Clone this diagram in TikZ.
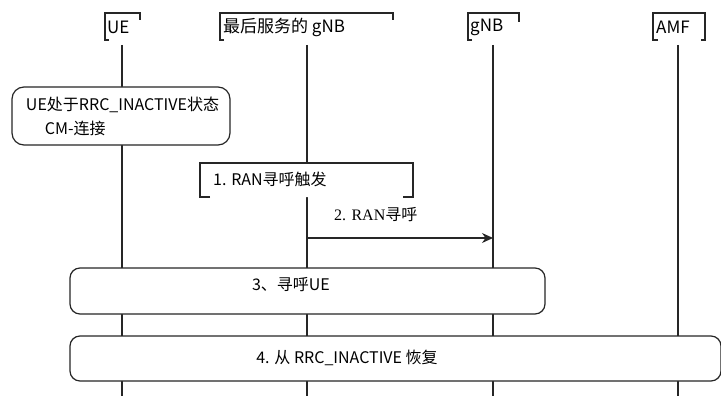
\documentclass[tikz,border=0pt]{standalone}
\usepackage{fontspec}
\setmainfont{Noto Sans CJK SC}
\newfontfamily\lserif{Liberation Serif}
\usetikzlibrary{arrows.meta}
\tikzset{
  ln/.style={draw=black!85, line width=1.2pt},
  lbl/.style={inner sep=0pt, font=\fontsize{16}{19}\selectfont},
  hlbl/.style={inner sep=0pt, font=\fontsize{17}{20}\selectfont},
  rbox/.style={ln, fill=white, rounded corners=10pt, inner sep=0pt},
}
\begin{document}
\begin{tikzpicture}[x=1pt,y=-1pt]
\useasboundingbox (0,0) rectangle (721,396);
% lifeline coordinates
\coordinate (ueT) at (122,45);  \coordinate (ueB) at (122,396);
\coordinate (lgT) at (307,45);  \coordinate (lgB) at (307,396);
\coordinate (gT) at (493,45);   \coordinate (gB) at (493,396);
\coordinate (amT) at (678,45);  \coordinate (amB) at (678,396);
\draw[ln] (ueT) -- (ueB);
\draw[ln] (lgT) -- (lgB);
\draw[ln] (gT) -- (gB);
\draw[ln] (amT) -- (amB);
% headers
\node[hlbl, anchor=west] (hue) at (107,27) {UE};
\draw[ln] (109,40) -- (105,40) -- (105,13) -- (140,13) -- (140,20);
\node[hlbl, anchor=west] (hlg) at (223,27) {最后服务的 gNB};
\draw[ln] (224,40) -- (220,40) -- (220,13) -- (393,13) -- (393,20);
\node[hlbl, anchor=west] (hg) at (470,27) {gNB};
\draw[ln] (472,40) -- (468,40) -- (468,13) -- (519,13) -- (519,22);
\node[hlbl, anchor=west] (ham) at (656,27) {AMF};
\draw[ln] (658,40) -- (653,40) -- (653,13) -- (705,13) -- (705,40) -- (701,40);
% UE state box
\node[rbox, rounded corners=12pt, minimum width=218pt, minimum height=58pt, align=left,
      font=\fontsize{16}{24}\selectfont] (st) at (121,116)
  {\hspace*{3pt}UE处于RRC\_INACTIVE状态\\\hspace*{22pt}CM-连接};
% box 1
\draw[ln, fill=white] (210,197) -- (200,197) -- (200,163) -- (413,163) -- (413,197) -- (403,197);
\node[lbl, anchor=west] (t1) at (213,179) {1. RAN寻呼触发};
% message 2
\coordinate (m2s) at (307,238);
\coordinate (m2e) at (493,238);
\draw[ln, -{Stealth[length=11pt,width=10pt]}] (m2s) -- (m2e);
\node[lbl, anchor=west] (t2) at (334,215) {{\lserif 2. RAN}寻呼};
% box 3
\node[rbox, minimum width=475pt, minimum height=46pt] (b3) at (307.5,291) {};
\node[lbl] (t3) at (291,285) {3、寻呼UE};
% box 4
\node[rbox, minimum width=651pt, minimum height=45pt] (b4) at (395.5,358.5) {};
\node[lbl] (t4) at (347,358) {4. 从 RRC\_INACTIVE 恢复};
\end{tikzpicture}
\end{document}
